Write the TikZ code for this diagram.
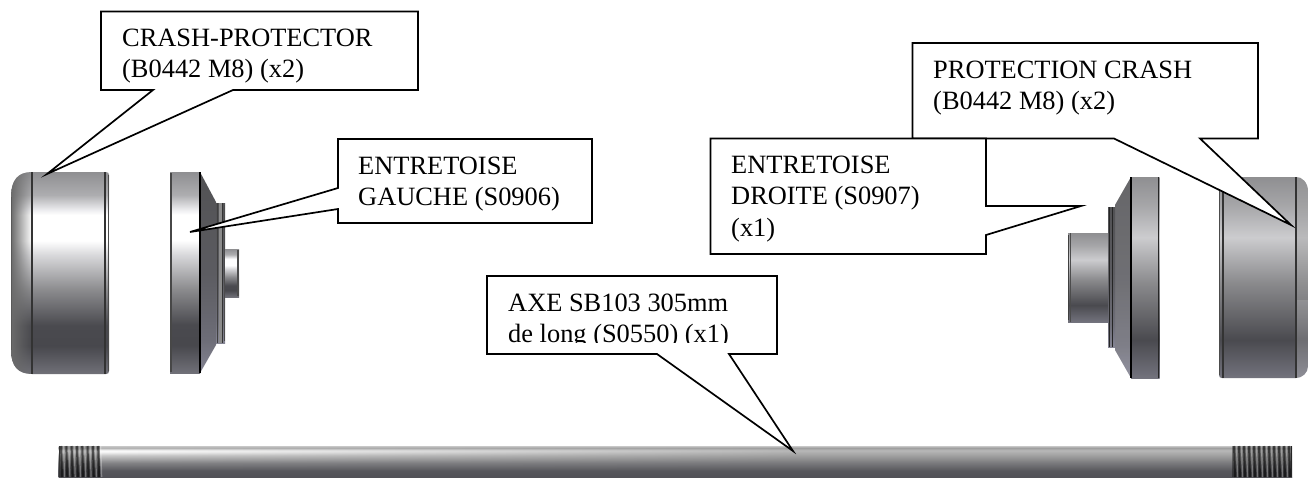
\documentclass[tikz,border=0pt]{standalone}
\usepackage{fontspec}
\setmainfont{Liberation Serif}
\usetikzlibrary{fadings}
\pgfdeclareverticalshading{cylL}{100bp}{rgb(0bp)=(.44,.44,.47);rgb(25bp)=(.44,.44,.47);rgb(32bp)=(.28,.28,.3);rgb(37bp)=(.29,.29,.31);rgb(46bp)=(.55,.55,.56);rgb(54.5bp)=(.85,.85,.86);rgb(58bp)=(1,1,1);rgb(64.4bp)=(1,1,1);rgb(65.6bp)=(.93,.93,.94);rgb(69.3bp)=(.68,.68,.69);rgb(75bp)=(.56,.56,.57);rgb(100bp)=(.56,.56,.57)}
\pgfdeclareverticalshading{cylR}{100bp}{rgb(0bp)=(.45,.45,.49);rgb(25bp)=(.45,.45,.49);rgb(34.5bp)=(.29,.29,.31);rgb(48.6bp)=(.54,.54,.55);rgb(60bp)=(.8,.8,.81);rgb(68bp)=(.65,.65,.66);rgb(75bp)=(.56,.56,.57);rgb(100bp)=(.56,.56,.57)}
\pgfdeclareverticalshading{coneS}{100bp}{rgb(0bp)=(.52,.52,.58);rgb(25bp)=(.52,.52,.58);rgb(33bp)=(.43,.43,.47);rgb(50bp)=(.36,.36,.38);rgb(75bp)=(.32,.32,.33);rgb(100bp)=(.32,.32,.33)}
\pgfdeclareverticalshading{axeL}{100bp}{rgb(0bp)=(.32,.32,.34);rgb(25bp)=(.32,.32,.34);rgb(35bp)=(.34,.34,.36);rgb(48bp)=(.52,.52,.53);rgb(60bp)=(.8,.8,.8);rgb(66bp)=(1,1,1);rgb(68bp)=(1,1,1);rgb(72bp)=(.7,.7,.7);rgb(75bp)=(.78,.78,.78);rgb(100bp)=(.78,.78,.78)}
\pgfdeclareverticalshading{axeR}{100bp}{rgb(0bp)=(.32,.32,.34);rgb(25bp)=(.32,.32,.34);rgb(35bp)=(.34,.34,.36);rgb(48bp)=(.48,.48,.49);rgb(60bp)=(.63,.63,.63);rgb(68bp)=(.72,.72,.72);rgb(72bp)=(.62,.62,.62);rgb(75bp)=(.78,.78,.78);rgb(100bp)=(.78,.78,.78)}
\tikzset{
  callout/.style={draw=black,fill=white,line width=1.7pt,line join=miter},
  lbl/.style={anchor=north west,inner sep=0pt,align=left,font=\fontsize{26.4}{31.6}\selectfont},
  edgeA/.style={draw=black!80,line width=1.2pt},
  edgeB/.style={draw=black,line width=1.3pt},
}
\begin{document}
\begin{tikzpicture}[x=1pt,y=-1pt]
\useasboundingbox (0,0) rectangle (1308,477);
\clip (0,0) rectangle (1308,477);
\fill[white] (0,0) rectangle (1308,477);

% --- left crash protector
\shade[shading=cylL] (32,172) .. controls (18,172) and (11,180) .. (11,197) -- (11,350) .. controls (11,366) and (18,374) .. (32,374) -- (106,374) .. controls (108,374) and (109,373) .. (109,371) -- (109,175) .. controls (109,173) and (108,172) .. (106,172) -- cycle;
\begin{scope}
\clip (32,172) .. controls (18,172) and (11,180) .. (11,197) -- (11,350) .. controls (11,366) and (18,374) .. (32,374) -- cycle;
\fill[black!58,path fading=east] (11,172) rectangle (32,374);
\end{scope}
\draw[draw=black!65,line width=1.2pt] (11.6,197) -- (11.6,350);
\draw[edgeA] (32,172) -- (32,374);
\draw[edgeA] (105,172) -- (105,374);
\draw[draw=black!70,line width=1pt] (108.6,175) -- (108.6,371);

% --- left spacer
\shade[shading=cylL] (170,172) rectangle (200,373);
\shade[shading=coneS] (200,172) -- (216,202) -- (216,345) -- (200,373) -- cycle;
\shade[shading=coneS] (216,203) rectangle (225,343);
\shade[shading=cylL] (225,249) rectangle (239,297);
\fill[black!72] (170,173) rectangle (172.4,372);
\draw[edgeB] (200,172) -- (200,373);
\draw[draw=black!75,line width=.8pt] (217,203) -- (217,343);
\fill[black!45] (219,203) rectangle (221.5,343);
\draw[draw=black!80,line width=.8pt] (222.3,203) -- (222.3,343);
\draw[draw=black!70,line width=.8pt] (224.8,205) -- (224.8,341);
\fill[black!70] (237,250) rectangle (239,296);

% --- right spacer
\shade[shading=cylR] (1131,177) rectangle (1159.5,378);
\shade[shading=coneS] (1131,177) -- (1115,205) -- (1115,350) -- (1131,378) -- cycle;
\fill[white,opacity=.12] (1131,177) -- (1115,205) -- (1115,350) -- (1131,378) -- cycle;
\shade[shading=coneS] (1108,207) rectangle (1115,347);
\shade[shading=cylR] (1068,233) rectangle (1108,322);
\draw[edgeB] (1131,177) -- (1131,378);
\draw[draw=black!85,line width=1pt] (1158.5,177) -- (1158.5,378);
\draw[draw=black!85,line width=.9pt] (1109.5,207) -- (1109.5,347);
\draw[draw=black!85,line width=.9pt] (1112.5,207) -- (1112.5,347);
\draw[draw=black!75,line width=1pt] (1068.5,235) -- (1068.5,320);
\draw[draw=black!70,line width=.8pt] (1070.8,233) -- (1070.8,322);

% --- right crash protector
\shade[shading=cylR] (1222,177) -- (1296,177) .. controls (1302,177) and (1308,182) .. (1308,192) -- (1308,366) .. controls (1308,373) and (1302,378) .. (1296,378) -- (1222,378) .. controls (1220,378) and (1219,377) .. (1219,375) -- (1219,180) .. controls (1219,178) and (1220,177) .. (1222,177) -- cycle;
\begin{scope}
\clip (1296,177) .. controls (1302,177) and (1308,182) .. (1308,192) -- (1308,366) .. controls (1308,373) and (1302,378) .. (1296,378) -- cycle;
\fill[black!40,opacity=.35] (1296,177) rectangle (1308,300);
\fill[white,opacity=.2] (1296,300) rectangle (1308,378);
\end{scope}
\draw[edgeA] (1296,177) -- (1296,378);
\draw[draw=black!70,line width=1pt] (1219.5,180) -- (1219.5,375);
\draw[edgeA] (1223,177) -- (1223,378);

% --- axle
\shade[shading=axeR] (59,446) rectangle (1292,477);
\shade[shading=axeL,path fading=east] (59,446) rectangle (800,477);
\shade[shading=axeL] (59,446) rectangle (100,477);
\shade[shading=axeR] (1232,446) rectangle (1292,477);
\fill[black,opacity=.35] (59,446) rectangle (100,477);
\fill[black,opacity=.35] (1232,446) rectangle (1292,477);
\foreach \t in {0,...,7} {
  \draw[black,opacity=.5,line width=2pt] ({61+5.3*\t},446) -- ({62+5.3*\t},477);
  \draw[white,opacity=.3,line width=1.2pt] ({63.6+5.3*\t},446) -- ({64.6+5.3*\t},477);
}
\foreach \t in {0,...,11} {
  \draw[black,opacity=.5,line width=2pt] ({1234+5*\t},446) -- ({1235+5*\t},477);
  \draw[white,opacity=.3,line width=1.2pt] ({1236.5+5*\t},446) -- ({1237.5+5*\t},477);
}
\fill[black!80] (59,446) rectangle (60,477);
\fill[black!85] (1291,446) rectangle (1292,477);

% --- callouts
\draw[callout] (101,11.5) -- (418,11.5) -- (418,90) -- (233,90) -- (47,174) -- (153,90) -- (101,90) -- cycle;
\node[lbl] (crash) at (122,28.4) {CRASH-PROTECTOR\\(B0442 M8) (x2)};

\draw[callout] (338,139) -- (592,139) -- (592,223) -- (338,223) -- (338,209) -- (190,232) -- (338,188) -- cycle;
\node[lbl] (gauche) at (358,156.4) {ENTRETOISE\\GAUCHE (S0906)};

\draw[callout] (912.5,43) -- (1258,43) -- (1258,138.5) -- (1200,138.5) -- (1291,225) -- (1114,138.5) -- (912.5,138.5) -- cycle;
\node[lbl] (prot) at (933,60.4) {PROTECTION CRASH\\(B0442 M8) (x2)};

\draw[callout] (710.5,138.5) -- (986,138.5) -- (986,206) -- (1081,206) -- (986,235) -- (986,254) -- (710.5,254) -- cycle;
\node[lbl] (droite) at (731,155.4) {ENTRETOISE\\DROITE (S0907)\\(x1)};

\draw[callout] (487,276) -- (777,276) -- (777,354) -- (729,354) -- (793,451) -- (657,354) -- (487,354) -- cycle;
\begin{scope}
\clip (490,278) rectangle (775,342.5);
\node[lbl] (axe) at (508,293.4) {AXE SB103 305mm\\de long (S0550) (x1)};
\end{scope}
\end{tikzpicture}
\end{document}
